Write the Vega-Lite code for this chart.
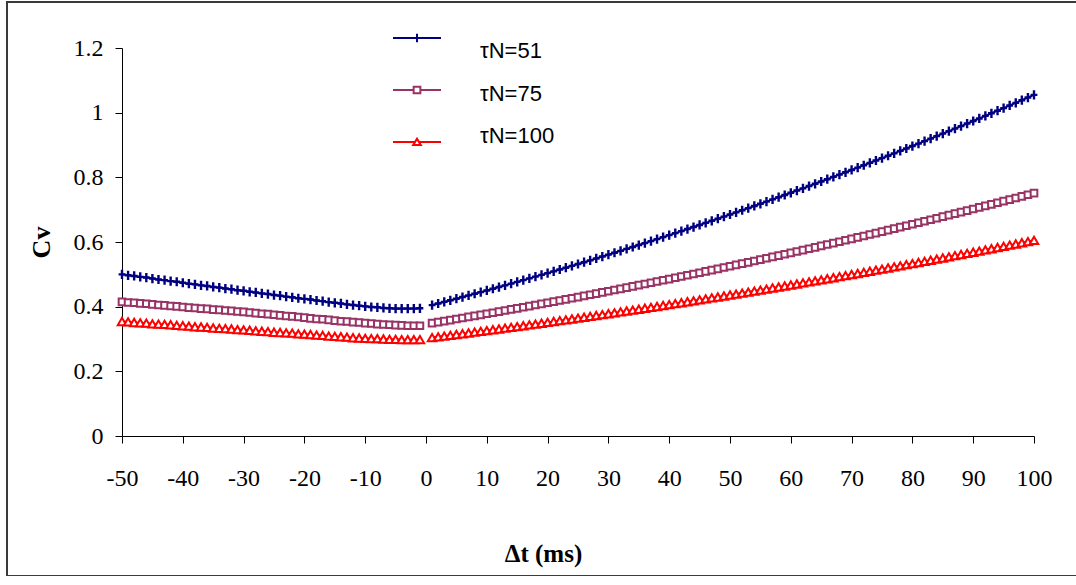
{
"$schema": "https://vega.github.io/schema/vega-lite/v6.json",
"width": 1073, "height": 574,
"autosize": {"type": "none"},
"padding": {"left": 7, "top": 2, "right": 0, "bottom": 0},
"config": {"view": {"stroke": "#3a3a3a", "strokeWidth": 2}},
"data": {"values": [
{"s":"τN=51","p":"L","t":-50,"v":0.500},{"s":"τN=51","p":"L","t":-49,"v":0.497},{"s":"τN=51","p":"L","t":-48,"v":0.495},{"s":"τN=51","p":"L","t":-47,"v":0.492},{"s":"τN=51","p":"L","t":-46,"v":0.490},{"s":"τN=51","p":"L","t":-45,"v":0.487},{"s":"τN=51","p":"L","t":-44,"v":0.484},{"s":"τN=51","p":"L","t":-43,"v":0.482},{"s":"τN=51","p":"L","t":-42,"v":0.479},{"s":"τN=51","p":"L","t":-41,"v":0.477},
{"s":"τN=51","p":"L","t":-40,"v":0.474},{"s":"τN=51","p":"L","t":-39,"v":0.471},{"s":"τN=51","p":"L","t":-38,"v":0.469},{"s":"τN=51","p":"L","t":-37,"v":0.466},{"s":"τN=51","p":"L","t":-36,"v":0.464},{"s":"τN=51","p":"L","t":-35,"v":0.461},{"s":"τN=51","p":"L","t":-34,"v":0.459},{"s":"τN=51","p":"L","t":-33,"v":0.456},{"s":"τN=51","p":"L","t":-32,"v":0.454},{"s":"τN=51","p":"L","t":-31,"v":0.451},
{"s":"τN=51","p":"L","t":-30,"v":0.449},{"s":"τN=51","p":"L","t":-29,"v":0.446},{"s":"τN=51","p":"L","t":-28,"v":0.444},{"s":"τN=51","p":"L","t":-27,"v":0.441},{"s":"τN=51","p":"L","t":-26,"v":0.439},{"s":"τN=51","p":"L","t":-25,"v":0.436},{"s":"τN=51","p":"L","t":-24,"v":0.434},{"s":"τN=51","p":"L","t":-23,"v":0.431},{"s":"τN=51","p":"L","t":-22,"v":0.429},{"s":"τN=51","p":"L","t":-21,"v":0.426},
{"s":"τN=51","p":"L","t":-20,"v":0.424},{"s":"τN=51","p":"L","t":-19,"v":0.422},{"s":"τN=51","p":"L","t":-18,"v":0.419},{"s":"τN=51","p":"L","t":-17,"v":0.417},{"s":"τN=51","p":"L","t":-16,"v":0.414},{"s":"τN=51","p":"L","t":-15,"v":0.412},{"s":"τN=51","p":"L","t":-14,"v":0.410},{"s":"τN=51","p":"L","t":-13,"v":0.407},{"s":"τN=51","p":"L","t":-12,"v":0.405},{"s":"τN=51","p":"L","t":-11,"v":0.403},
{"s":"τN=51","p":"L","t":-10,"v":0.401},{"s":"τN=51","p":"L","t":-9,"v":0.399},{"s":"τN=51","p":"L","t":-8,"v":0.398},{"s":"τN=51","p":"L","t":-7,"v":0.396},{"s":"τN=51","p":"L","t":-6,"v":0.395},{"s":"τN=51","p":"L","t":-5,"v":0.394},{"s":"τN=51","p":"L","t":-4,"v":0.394},{"s":"τN=51","p":"L","t":-3,"v":0.394},{"s":"τN=51","p":"L","t":-2,"v":0.394},{"s":"τN=51","p":"L","t":-1,"v":0.395},
{"s":"τN=51","p":"R","t":1,"v":0.4049},{"s":"τN=51","p":"R","t":2,"v":0.4098},{"s":"τN=51","p":"R","t":3,"v":0.4147},{"s":"τN=51","p":"R","t":4,"v":0.4197},{"s":"τN=51","p":"R","t":5,"v":0.4247},{"s":"τN=51","p":"R","t":6,"v":0.4297},{"s":"τN=51","p":"R","t":7,"v":0.4348},{"s":"τN=51","p":"R","t":8,"v":0.4399},{"s":"τN=51","p":"R","t":9,"v":0.4450},
{"s":"τN=51","p":"R","t":10,"v":0.4502},{"s":"τN=51","p":"R","t":11,"v":0.4554},{"s":"τN=51","p":"R","t":12,"v":0.4606},{"s":"τN=51","p":"R","t":13,"v":0.4659},{"s":"τN=51","p":"R","t":14,"v":0.4712},{"s":"τN=51","p":"R","t":15,"v":0.4766},{"s":"τN=51","p":"R","t":16,"v":0.4820},{"s":"τN=51","p":"R","t":17,"v":0.4874},{"s":"τN=51","p":"R","t":18,"v":0.4928},{"s":"τN=51","p":"R","t":19,"v":0.4983},
{"s":"τN=51","p":"R","t":20,"v":0.5038},{"s":"τN=51","p":"R","t":21,"v":0.5093},{"s":"τN=51","p":"R","t":22,"v":0.5149},{"s":"τN=51","p":"R","t":23,"v":0.5205},{"s":"τN=51","p":"R","t":24,"v":0.5262},{"s":"τN=51","p":"R","t":25,"v":0.5319},{"s":"τN=51","p":"R","t":26,"v":0.5376},{"s":"τN=51","p":"R","t":27,"v":0.5433},{"s":"τN=51","p":"R","t":28,"v":0.5491},{"s":"τN=51","p":"R","t":29,"v":0.5550},
{"s":"τN=51","p":"R","t":30,"v":0.5608},{"s":"τN=51","p":"R","t":31,"v":0.5667},{"s":"τN=51","p":"R","t":32,"v":0.5726},{"s":"τN=51","p":"R","t":33,"v":0.5786},{"s":"τN=51","p":"R","t":34,"v":0.5846},{"s":"τN=51","p":"R","t":35,"v":0.5906},{"s":"τN=51","p":"R","t":36,"v":0.5966},{"s":"τN=51","p":"R","t":37,"v":0.6027},{"s":"τN=51","p":"R","t":38,"v":0.6088},{"s":"τN=51","p":"R","t":39,"v":0.6150},
{"s":"τN=51","p":"R","t":40,"v":0.6212},{"s":"τN=51","p":"R","t":41,"v":0.6274},{"s":"τN=51","p":"R","t":42,"v":0.6337},{"s":"τN=51","p":"R","t":43,"v":0.6400},{"s":"τN=51","p":"R","t":44,"v":0.6463},{"s":"τN=51","p":"R","t":45,"v":0.6527},{"s":"τN=51","p":"R","t":46,"v":0.6591},{"s":"τN=51","p":"R","t":47,"v":0.6655},{"s":"τN=51","p":"R","t":48,"v":0.6720},{"s":"τN=51","p":"R","t":49,"v":0.6785},
{"s":"τN=51","p":"R","t":50,"v":0.6850},{"s":"τN=51","p":"R","t":51,"v":0.6916},{"s":"τN=51","p":"R","t":52,"v":0.6982},{"s":"τN=51","p":"R","t":53,"v":0.7048},{"s":"τN=51","p":"R","t":54,"v":0.7115},{"s":"τN=51","p":"R","t":55,"v":0.7182},{"s":"τN=51","p":"R","t":56,"v":0.7249},{"s":"τN=51","p":"R","t":57,"v":0.7317},{"s":"τN=51","p":"R","t":58,"v":0.7385},{"s":"τN=51","p":"R","t":59,"v":0.7453},
{"s":"τN=51","p":"R","t":60,"v":0.7522},{"s":"τN=51","p":"R","t":61,"v":0.7591},{"s":"τN=51","p":"R","t":62,"v":0.7660},{"s":"τN=51","p":"R","t":63,"v":0.7730},{"s":"τN=51","p":"R","t":64,"v":0.7800},{"s":"τN=51","p":"R","t":65,"v":0.7871},{"s":"τN=51","p":"R","t":66,"v":0.7942},{"s":"τN=51","p":"R","t":67,"v":0.8013},{"s":"τN=51","p":"R","t":68,"v":0.8084},{"s":"τN=51","p":"R","t":69,"v":0.8156},
{"s":"τN=51","p":"R","t":70,"v":0.8228},{"s":"τN=51","p":"R","t":71,"v":0.8300},{"s":"τN=51","p":"R","t":72,"v":0.8373},{"s":"τN=51","p":"R","t":73,"v":0.8446},{"s":"τN=51","p":"R","t":74,"v":0.8520},{"s":"τN=51","p":"R","t":75,"v":0.8594},{"s":"τN=51","p":"R","t":76,"v":0.8668},{"s":"τN=51","p":"R","t":77,"v":0.8742},{"s":"τN=51","p":"R","t":78,"v":0.8817},{"s":"τN=51","p":"R","t":79,"v":0.8892},
{"s":"τN=51","p":"R","t":80,"v":0.8968},{"s":"τN=51","p":"R","t":81,"v":0.9044},{"s":"τN=51","p":"R","t":82,"v":0.9120},{"s":"τN=51","p":"R","t":83,"v":0.9197},{"s":"τN=51","p":"R","t":84,"v":0.9274},{"s":"τN=51","p":"R","t":85,"v":0.9351},{"s":"τN=51","p":"R","t":86,"v":0.9428},{"s":"τN=51","p":"R","t":87,"v":0.9506},{"s":"τN=51","p":"R","t":88,"v":0.9584},{"s":"τN=51","p":"R","t":89,"v":0.9663},
{"s":"τN=51","p":"R","t":90,"v":0.9742},{"s":"τN=51","p":"R","t":91,"v":0.9821},{"s":"τN=51","p":"R","t":92,"v":0.9901},{"s":"τN=51","p":"R","t":93,"v":0.9981},{"s":"τN=51","p":"R","t":94,"v":1.0061},{"s":"τN=51","p":"R","t":95,"v":1.0142},{"s":"τN=51","p":"R","t":96,"v":1.0223},{"s":"τN=51","p":"R","t":97,"v":1.0304},{"s":"τN=51","p":"R","t":98,"v":1.0386},{"s":"τN=51","p":"R","t":99,"v":1.0468},
{"s":"τN=51","p":"R","t":100,"v":1.0550},
{"s":"τN=75","p":"L","t":-50,"v":0.415},{"s":"τN=75","p":"L","t":-49,"v":0.413},{"s":"τN=75","p":"L","t":-48,"v":0.412},{"s":"τN=75","p":"L","t":-47,"v":0.410},{"s":"τN=75","p":"L","t":-46,"v":0.409},{"s":"τN=75","p":"L","t":-45,"v":0.407},{"s":"τN=75","p":"L","t":-44,"v":0.405},{"s":"τN=75","p":"L","t":-43,"v":0.404},{"s":"τN=75","p":"L","t":-42,"v":0.402},{"s":"τN=75","p":"L","t":-41,"v":0.401},
{"s":"τN=75","p":"L","t":-40,"v":0.399},{"s":"τN=75","p":"L","t":-39,"v":0.397},{"s":"τN=75","p":"L","t":-38,"v":0.396},{"s":"τN=75","p":"L","t":-37,"v":0.394},{"s":"τN=75","p":"L","t":-36,"v":0.393},{"s":"τN=75","p":"L","t":-35,"v":0.391},{"s":"τN=75","p":"L","t":-34,"v":0.390},{"s":"τN=75","p":"L","t":-33,"v":0.388},{"s":"τN=75","p":"L","t":-32,"v":0.387},{"s":"τN=75","p":"L","t":-31,"v":0.385},
{"s":"τN=75","p":"L","t":-30,"v":0.384},{"s":"τN=75","p":"L","t":-29,"v":0.382},{"s":"τN=75","p":"L","t":-28,"v":0.380},{"s":"τN=75","p":"L","t":-27,"v":0.378},{"s":"τN=75","p":"L","t":-26,"v":0.377},{"s":"τN=75","p":"L","t":-25,"v":0.375},{"s":"τN=75","p":"L","t":-24,"v":0.373},{"s":"τN=75","p":"L","t":-23,"v":0.371},{"s":"τN=75","p":"L","t":-22,"v":0.370},{"s":"τN=75","p":"L","t":-21,"v":0.368},
{"s":"τN=75","p":"L","t":-20,"v":0.366},{"s":"τN=75","p":"L","t":-19,"v":0.364},{"s":"τN=75","p":"L","t":-18,"v":0.362},{"s":"τN=75","p":"L","t":-17,"v":0.361},{"s":"τN=75","p":"L","t":-16,"v":0.359},{"s":"τN=75","p":"L","t":-15,"v":0.357},{"s":"τN=75","p":"L","t":-14,"v":0.355},{"s":"τN=75","p":"L","t":-13,"v":0.354},{"s":"τN=75","p":"L","t":-12,"v":0.352},{"s":"τN=75","p":"L","t":-11,"v":0.351},
{"s":"τN=75","p":"L","t":-10,"v":0.349},{"s":"τN=75","p":"L","t":-9,"v":0.348},{"s":"τN=75","p":"L","t":-8,"v":0.346},{"s":"τN=75","p":"L","t":-7,"v":0.345},{"s":"τN=75","p":"L","t":-6,"v":0.344},{"s":"τN=75","p":"L","t":-5,"v":0.343},{"s":"τN=75","p":"L","t":-4,"v":0.342},{"s":"τN=75","p":"L","t":-3,"v":0.341},{"s":"τN=75","p":"L","t":-2,"v":0.341},{"s":"τN=75","p":"L","t":-1,"v":0.341},
{"s":"τN=75","p":"R","t":1,"v":0.3491},{"s":"τN=75","p":"R","t":2,"v":0.3523},{"s":"τN=75","p":"R","t":3,"v":0.3554},{"s":"τN=75","p":"R","t":4,"v":0.3586},{"s":"τN=75","p":"R","t":5,"v":0.3618},{"s":"τN=75","p":"R","t":6,"v":0.3650},{"s":"τN=75","p":"R","t":7,"v":0.3682},{"s":"τN=75","p":"R","t":8,"v":0.3715},{"s":"τN=75","p":"R","t":9,"v":0.3748},
{"s":"τN=75","p":"R","t":10,"v":0.3780},{"s":"τN=75","p":"R","t":11,"v":0.3813},{"s":"τN=75","p":"R","t":12,"v":0.3847},{"s":"τN=75","p":"R","t":13,"v":0.3880},{"s":"τN=75","p":"R","t":14,"v":0.3914},{"s":"τN=75","p":"R","t":15,"v":0.3948},{"s":"τN=75","p":"R","t":16,"v":0.3982},{"s":"τN=75","p":"R","t":17,"v":0.4016},{"s":"τN=75","p":"R","t":18,"v":0.4050},{"s":"τN=75","p":"R","t":19,"v":0.4085},
{"s":"τN=75","p":"R","t":20,"v":0.4120},{"s":"τN=75","p":"R","t":21,"v":0.4155},{"s":"τN=75","p":"R","t":22,"v":0.4190},{"s":"τN=75","p":"R","t":23,"v":0.4225},{"s":"τN=75","p":"R","t":24,"v":0.4261},{"s":"τN=75","p":"R","t":25,"v":0.4296},{"s":"τN=75","p":"R","t":26,"v":0.4332},{"s":"τN=75","p":"R","t":27,"v":0.4368},{"s":"τN=75","p":"R","t":28,"v":0.4405},{"s":"τN=75","p":"R","t":29,"v":0.4441},
{"s":"τN=75","p":"R","t":30,"v":0.4478},{"s":"τN=75","p":"R","t":31,"v":0.4514},{"s":"τN=75","p":"R","t":32,"v":0.4551},{"s":"τN=75","p":"R","t":33,"v":0.4589},{"s":"τN=75","p":"R","t":34,"v":0.4626},{"s":"τN=75","p":"R","t":35,"v":0.4664},{"s":"τN=75","p":"R","t":36,"v":0.4701},{"s":"τN=75","p":"R","t":37,"v":0.4739},{"s":"τN=75","p":"R","t":38,"v":0.4778},{"s":"τN=75","p":"R","t":39,"v":0.4816},
{"s":"τN=75","p":"R","t":40,"v":0.4854},{"s":"τN=75","p":"R","t":41,"v":0.4893},{"s":"τN=75","p":"R","t":42,"v":0.4932},{"s":"τN=75","p":"R","t":43,"v":0.4971},{"s":"τN=75","p":"R","t":44,"v":0.5010},{"s":"τN=75","p":"R","t":45,"v":0.5050},{"s":"τN=75","p":"R","t":46,"v":0.5090},{"s":"τN=75","p":"R","t":47,"v":0.5129},{"s":"τN=75","p":"R","t":48,"v":0.5169},{"s":"τN=75","p":"R","t":49,"v":0.5210},
{"s":"τN=75","p":"R","t":50,"v":0.5250},{"s":"τN=75","p":"R","t":51,"v":0.5291},{"s":"τN=75","p":"R","t":52,"v":0.5331},{"s":"τN=75","p":"R","t":53,"v":0.5372},{"s":"τN=75","p":"R","t":54,"v":0.5413},{"s":"τN=75","p":"R","t":55,"v":0.5455},{"s":"τN=75","p":"R","t":56,"v":0.5496},{"s":"τN=75","p":"R","t":57,"v":0.5538},{"s":"τN=75","p":"R","t":58,"v":0.5580},{"s":"τN=75","p":"R","t":59,"v":0.5622},
{"s":"τN=75","p":"R","t":60,"v":0.5664},{"s":"τN=75","p":"R","t":61,"v":0.5707},{"s":"τN=75","p":"R","t":62,"v":0.5750},{"s":"τN=75","p":"R","t":63,"v":0.5792},{"s":"τN=75","p":"R","t":64,"v":0.5835},{"s":"τN=75","p":"R","t":65,"v":0.5879},{"s":"τN=75","p":"R","t":66,"v":0.5922},{"s":"τN=75","p":"R","t":67,"v":0.5966},{"s":"τN=75","p":"R","t":68,"v":0.6009},{"s":"τN=75","p":"R","t":69,"v":0.6053},
{"s":"τN=75","p":"R","t":70,"v":0.6098},{"s":"τN=75","p":"R","t":71,"v":0.6142},{"s":"τN=75","p":"R","t":72,"v":0.6186},{"s":"τN=75","p":"R","t":73,"v":0.6231},{"s":"τN=75","p":"R","t":74,"v":0.6276},{"s":"τN=75","p":"R","t":75,"v":0.6321},{"s":"τN=75","p":"R","t":76,"v":0.6367},{"s":"τN=75","p":"R","t":77,"v":0.6412},{"s":"τN=75","p":"R","t":78,"v":0.6458},{"s":"τN=75","p":"R","t":79,"v":0.6504},
{"s":"τN=75","p":"R","t":80,"v":0.6550},{"s":"τN=75","p":"R","t":81,"v":0.6596},{"s":"τN=75","p":"R","t":82,"v":0.6642},{"s":"τN=75","p":"R","t":83,"v":0.6689},{"s":"τN=75","p":"R","t":84,"v":0.6736},{"s":"τN=75","p":"R","t":85,"v":0.6783},{"s":"τN=75","p":"R","t":86,"v":0.6830},{"s":"τN=75","p":"R","t":87,"v":0.6877},{"s":"τN=75","p":"R","t":88,"v":0.6925},{"s":"τN=75","p":"R","t":89,"v":0.6972},
{"s":"τN=75","p":"R","t":90,"v":0.7020},{"s":"τN=75","p":"R","t":91,"v":0.7069},{"s":"τN=75","p":"R","t":92,"v":0.7117},{"s":"τN=75","p":"R","t":93,"v":0.7165},{"s":"τN=75","p":"R","t":94,"v":0.7214},{"s":"τN=75","p":"R","t":95,"v":0.7263},{"s":"τN=75","p":"R","t":96,"v":0.7312},{"s":"τN=75","p":"R","t":97,"v":0.7361},{"s":"τN=75","p":"R","t":98,"v":0.7411},{"s":"τN=75","p":"R","t":99,"v":0.7460},
{"s":"τN=75","p":"R","t":100,"v":0.7510},
{"s":"τN=100","p":"L","t":-50,"v":0.354},{"s":"τN=100","p":"L","t":-49,"v":0.353},{"s":"τN=100","p":"L","t":-48,"v":0.351},{"s":"τN=100","p":"L","t":-47,"v":0.350},{"s":"τN=100","p":"L","t":-46,"v":0.349},{"s":"τN=100","p":"L","t":-45,"v":0.347},{"s":"τN=100","p":"L","t":-44,"v":0.346},{"s":"τN=100","p":"L","t":-43,"v":0.345},{"s":"τN=100","p":"L","t":-42,"v":0.344},{"s":"τN=100","p":"L","t":-41,"v":0.342},
{"s":"τN=100","p":"L","t":-40,"v":0.341},{"s":"τN=100","p":"L","t":-39,"v":0.340},{"s":"τN=100","p":"L","t":-38,"v":0.338},{"s":"τN=100","p":"L","t":-37,"v":0.337},{"s":"τN=100","p":"L","t":-36,"v":0.336},{"s":"τN=100","p":"L","t":-35,"v":0.334},{"s":"τN=100","p":"L","t":-34,"v":0.333},{"s":"τN=100","p":"L","t":-33,"v":0.332},{"s":"τN=100","p":"L","t":-32,"v":0.331},{"s":"τN=100","p":"L","t":-31,"v":0.329},
{"s":"τN=100","p":"L","t":-30,"v":0.328},{"s":"τN=100","p":"L","t":-29,"v":0.327},{"s":"τN=100","p":"L","t":-28,"v":0.325},{"s":"τN=100","p":"L","t":-27,"v":0.324},{"s":"τN=100","p":"L","t":-26,"v":0.323},{"s":"τN=100","p":"L","t":-25,"v":0.321},{"s":"τN=100","p":"L","t":-24,"v":0.320},{"s":"τN=100","p":"L","t":-23,"v":0.319},{"s":"τN=100","p":"L","t":-22,"v":0.318},{"s":"τN=100","p":"L","t":-21,"v":0.316},
{"s":"τN=100","p":"L","t":-20,"v":0.315},{"s":"τN=100","p":"L","t":-19,"v":0.314},{"s":"τN=100","p":"L","t":-18,"v":0.312},{"s":"τN=100","p":"L","t":-17,"v":0.311},{"s":"τN=100","p":"L","t":-16,"v":0.309},{"s":"τN=100","p":"L","t":-15,"v":0.308},{"s":"τN=100","p":"L","t":-14,"v":0.307},{"s":"τN=100","p":"L","t":-13,"v":0.306},{"s":"τN=100","p":"L","t":-12,"v":0.304},{"s":"τN=100","p":"L","t":-11,"v":0.303},
{"s":"τN=100","p":"L","t":-10,"v":0.302},{"s":"τN=100","p":"L","t":-9,"v":0.301},{"s":"τN=100","p":"L","t":-8,"v":0.301},{"s":"τN=100","p":"L","t":-7,"v":0.300},{"s":"τN=100","p":"L","t":-6,"v":0.299},{"s":"τN=100","p":"L","t":-5,"v":0.299},{"s":"τN=100","p":"L","t":-4,"v":0.298},{"s":"τN=100","p":"L","t":-3,"v":0.298},{"s":"τN=100","p":"L","t":-2,"v":0.298},{"s":"τN=100","p":"L","t":-1,"v":0.298},
{"s":"τN=100","p":"R","t":1,"v":0.3043},{"s":"τN=100","p":"R","t":2,"v":0.3067},{"s":"τN=100","p":"R","t":3,"v":0.3091},{"s":"τN=100","p":"R","t":4,"v":0.3114},{"s":"τN=100","p":"R","t":5,"v":0.3138},{"s":"τN=100","p":"R","t":6,"v":0.3162},{"s":"τN=100","p":"R","t":7,"v":0.3187},{"s":"τN=100","p":"R","t":8,"v":0.3211},{"s":"τN=100","p":"R","t":9,"v":0.3235},
{"s":"τN=100","p":"R","t":10,"v":0.3260},{"s":"τN=100","p":"R","t":11,"v":0.3285},{"s":"τN=100","p":"R","t":12,"v":0.3310},{"s":"τN=100","p":"R","t":13,"v":0.3335},{"s":"τN=100","p":"R","t":14,"v":0.3360},{"s":"τN=100","p":"R","t":15,"v":0.3385},{"s":"τN=100","p":"R","t":16,"v":0.3411},{"s":"τN=100","p":"R","t":17,"v":0.3436},{"s":"τN=100","p":"R","t":18,"v":0.3462},{"s":"τN=100","p":"R","t":19,"v":0.3488},
{"s":"τN=100","p":"R","t":20,"v":0.3514},{"s":"τN=100","p":"R","t":21,"v":0.3540},{"s":"τN=100","p":"R","t":22,"v":0.3566},{"s":"τN=100","p":"R","t":23,"v":0.3593},{"s":"τN=100","p":"R","t":24,"v":0.3620},{"s":"τN=100","p":"R","t":25,"v":0.3646},{"s":"τN=100","p":"R","t":26,"v":0.3673},{"s":"τN=100","p":"R","t":27,"v":0.3700},{"s":"τN=100","p":"R","t":28,"v":0.3727},{"s":"τN=100","p":"R","t":29,"v":0.3755},
{"s":"τN=100","p":"R","t":30,"v":0.3782},{"s":"τN=100","p":"R","t":31,"v":0.3810},{"s":"τN=100","p":"R","t":32,"v":0.3837},{"s":"τN=100","p":"R","t":33,"v":0.3865},{"s":"τN=100","p":"R","t":34,"v":0.3893},{"s":"τN=100","p":"R","t":35,"v":0.3921},{"s":"τN=100","p":"R","t":36,"v":0.3950},{"s":"τN=100","p":"R","t":37,"v":0.3978},{"s":"τN=100","p":"R","t":38,"v":0.4006},{"s":"τN=100","p":"R","t":39,"v":0.4035},
{"s":"τN=100","p":"R","t":40,"v":0.4064},{"s":"τN=100","p":"R","t":41,"v":0.4093},{"s":"τN=100","p":"R","t":42,"v":0.4122},{"s":"τN=100","p":"R","t":43,"v":0.4151},{"s":"τN=100","p":"R","t":44,"v":0.4181},{"s":"τN=100","p":"R","t":45,"v":0.4210},{"s":"τN=100","p":"R","t":46,"v":0.4240},{"s":"τN=100","p":"R","t":47,"v":0.4270},{"s":"τN=100","p":"R","t":48,"v":0.4300},{"s":"τN=100","p":"R","t":49,"v":0.4330},
{"s":"τN=100","p":"R","t":50,"v":0.4360},{"s":"τN=100","p":"R","t":51,"v":0.4390},{"s":"τN=100","p":"R","t":52,"v":0.4421},{"s":"τN=100","p":"R","t":53,"v":0.4452},{"s":"τN=100","p":"R","t":54,"v":0.4482},{"s":"τN=100","p":"R","t":55,"v":0.4513},{"s":"τN=100","p":"R","t":56,"v":0.4544},{"s":"τN=100","p":"R","t":57,"v":0.4576},{"s":"τN=100","p":"R","t":58,"v":0.4607},{"s":"τN=100","p":"R","t":59,"v":0.4638},
{"s":"τN=100","p":"R","t":60,"v":0.4670},{"s":"τN=100","p":"R","t":61,"v":0.4702},{"s":"τN=100","p":"R","t":62,"v":0.4734},{"s":"τN=100","p":"R","t":63,"v":0.4766},{"s":"τN=100","p":"R","t":64,"v":0.4798},{"s":"τN=100","p":"R","t":65,"v":0.4830},{"s":"τN=100","p":"R","t":66,"v":0.4863},{"s":"τN=100","p":"R","t":67,"v":0.4895},{"s":"τN=100","p":"R","t":68,"v":0.4928},{"s":"τN=100","p":"R","t":69,"v":0.4961},
{"s":"τN=100","p":"R","t":70,"v":0.4994},{"s":"τN=100","p":"R","t":71,"v":0.5027},{"s":"τN=100","p":"R","t":72,"v":0.5060},{"s":"τN=100","p":"R","t":73,"v":0.5094},{"s":"τN=100","p":"R","t":74,"v":0.5128},{"s":"τN=100","p":"R","t":75,"v":0.5161},{"s":"τN=100","p":"R","t":76,"v":0.5195},{"s":"τN=100","p":"R","t":77,"v":0.5229},{"s":"τN=100","p":"R","t":78,"v":0.5263},{"s":"τN=100","p":"R","t":79,"v":0.5298},
{"s":"τN=100","p":"R","t":80,"v":0.5332},{"s":"τN=100","p":"R","t":81,"v":0.5367},{"s":"τN=100","p":"R","t":82,"v":0.5401},{"s":"τN=100","p":"R","t":83,"v":0.5436},{"s":"τN=100","p":"R","t":84,"v":0.5471},{"s":"τN=100","p":"R","t":85,"v":0.5506},{"s":"τN=100","p":"R","t":86,"v":0.5541},{"s":"τN=100","p":"R","t":87,"v":0.5577},{"s":"τN=100","p":"R","t":88,"v":0.5612},{"s":"τN=100","p":"R","t":89,"v":0.5648},
{"s":"τN=100","p":"R","t":90,"v":0.5684},{"s":"τN=100","p":"R","t":91,"v":0.5720},{"s":"τN=100","p":"R","t":92,"v":0.5756},{"s":"τN=100","p":"R","t":93,"v":0.5792},{"s":"τN=100","p":"R","t":94,"v":0.5829},{"s":"τN=100","p":"R","t":95,"v":0.5865},{"s":"τN=100","p":"R","t":96,"v":0.5902},{"s":"τN=100","p":"R","t":97,"v":0.5939},{"s":"τN=100","p":"R","t":98,"v":0.5976},{"s":"τN=100","p":"R","t":99,"v":0.6013},
{"s":"τN=100","p":"R","t":100,"v":0.6050}
]},
"encoding": {
  "x": {"field": "t", "type": "quantitative",
    "scale": {"domain": [-50, 100], "range": [115, 1027], "nice": false, "zero": false},
    "axis": {"values": [-50,-40,-30,-20,-10,0,10,20,30,40,50,60,70,80,90,100],
      "labelExpr": "'' + datum.value", "offset": -140, "grid": false,
      "tickSize": 7, "tickColor": "#000", "domainColor": "#000", "domainWidth": 1, "tickWidth": 1,
      "labelFont": "Liberation Serif", "labelFontSize": 24, "labelColor": "#000", "labelPadding": 23,
      "labelOverlap": false, "labelFlush": false,
      "title": "Δt (ms)", "titleFont": "Liberation Serif", "titleFontSize": 25, "titleFontWeight": "bold", "titleColor": "#000",
      "titleX": 536, "titleY": 117, "titleAlign": "center", "titleBaseline": "middle"}},
  "y": {"field": "v", "type": "quantitative",
    "scale": {"domain": [0, 1.2], "range": [434, 46], "nice": false, "zero": false},
    "axis": {"values": [0, 0.2, 0.4, 0.6, 0.8, 1, 1.2], "format": "~g", "offset": -115, "grid": false,
      "tickSize": 7, "tickColor": "#000", "domainColor": "#000", "domainWidth": 1, "tickWidth": 1,
      "labelFont": "Liberation Serif", "labelFontSize": 24, "labelColor": "#000", "labelPadding": 12,
      "labelOverlap": false, "labelFlush": false,
      "title": "Cv", "titleFont": "Liberation Serif", "titleFontSize": 26, "titleFontWeight": "bold", "titleColor": "#000",
      "titleX": -81, "titleY": 240, "titleAngle": -90, "titleAlign": "center", "titleBaseline": "middle"}},
  "color": {"field": "s", "type": "nominal",
    "scale": {"domain": ["τN=51", "τN=75", "τN=100"], "range": ["#000080", "#993366", "#FF0000"]},
    "legend": {"orient": "none", "legendX": 385, "legendY": 11, "title": null, "padding": 0,
      "symbolSize": 2304, "symbolStrokeWidth": 2, "rowPadding": 2, "labelOffset": 38,
      "labelFont": "Liberation Sans", "labelFontSize": 22, "labelColor": "#000", "labelLimit": 0,
      "encode": {
        "symbols": {"update": {
          "shape": {"signal": "datum.value === 'τN=51' ? 'M-1,0H1M0,-0.18V0.18M-1,-0.85M1,0.85' : datum.value === 'τN=75' ? 'M-1,0H-0.14M0.14,0H1M-0.14,-0.14H0.14V0.14H-0.14ZM-1,-0.85M1,0.85' : 'M-1,0H-0.08M0.08,0H1M-0.16,0.13L0,-0.14L0.16,0.13ZM-1,-0.85M1,0.85'"},
          "fill": {"value": "transparent"},
          "stroke": {"scale": "color", "field": "value"},
          "strokeWidth": {"value": 2}
        }},
        "labels": {"update": {
          "dy": {"signal": "datum.value === 'τN=51' ? 13 : datum.value === 'τN=75' ? 4 : -6"}
        }}
      }}}
},
"layer": [
  {"mark": {"type": "line", "strokeWidth": 2}, "encoding": {"detail": {"field": "p", "type": "nominal"}}},
  {"transform": [{"filter": {"field": "s", "equal": "τN=51"}}],
   "mark": {"type": "point", "filled": false, "size": 64, "strokeWidth": 2.4, "opacity": 1, "shape": "M-0.85,0H0.85M0,-1.15V1.15"}},
  {"transform": [{"filter": {"field": "s", "equal": "τN=75"}}],
   "mark": {"type": "point", "filled": false, "size": 49, "strokeWidth": 2, "opacity": 1, "fill": "#ffffff", "shape": "M-0.95,-0.95H0.95V0.95H-0.95Z"}},
  {"transform": [{"filter": {"field": "s", "equal": "τN=100"}}],
   "mark": {"type": "point", "filled": false, "size": 72, "strokeWidth": 2, "opacity": 1, "fill": "#ffffff", "shape": "triangle-up"}}
]
}
